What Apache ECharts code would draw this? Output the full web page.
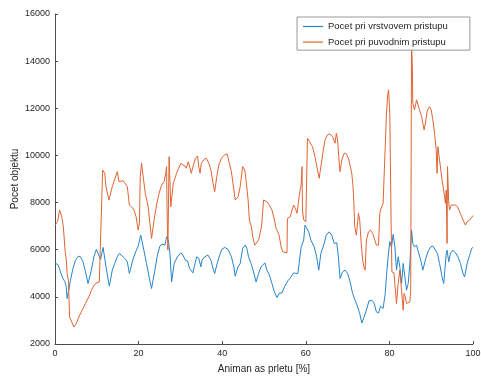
<!DOCTYPE html>
<html>
<head>
<meta charset="utf-8">
<script src="https://cdn.jsdelivr.net/npm/echarts@6/dist/echarts.min.js"></script>
<style>
html,body{margin:0;padding:0;background:#fff;}
#chart{width:481px;height:376px;}
</style>
</head>
<body>
<div id="chart"></div>
<script>
const seriesNames = ['Pocet pri vrstvovem pristupu', 'Pocet pri puvodnim pristupu'];
const xTicks = [0, 20, 40, 60, 80, 100];
const yTicks = [2000, 4000, 6000, 8000, 10000, 12000, 14000, 16000];

const blueX = [0,0.8,1.3,1.9,2.4,2.7,2.9,3.3,3.7,4.3,4.9,5.6,6.1,6.7,7.3,7.9,8.7,9.3,9.9,10.3,10.9,11.5,12.2,13.0,13.7,14.3,14.9,15.4,16.1,16.7,17.3,17.8,18.2,18.6,19.3,19.9,20.2,20.5,21.1,21.9,22.5,23.1,23.9,24.5,25.1,25.6,26.3,26.7,27.1,27.5,27.9,28.5,29.3,30.1,30.6,31.2,31.7,32.2,33.0,33.4,33.9,34.4,34.9,35.2,35.8,36.6,37.3,37.8,38.2,38.8,39.4,39.9,40.6,41.4,42.2,42.8,43.1,43.8,44.3,44.9,45.5,45.9,46.3,46.9,47.5,48.1,48.7,49.3,50.2,50.7,51.3,51.9,52.5,53.1,53.6,54.3,54.9,55.7,56.5,57.1,57.6,58.1,58.4,58.9,59.5,59.8,60.1,60.7,61.2,62.0,62.6,63.1,63.6,64.4,64.9,65.6,66.2,66.8,67.4,67.8,68.2,68.8,69.4,70.0,70.5,71.2,71.8,72.4,72.9,73.4,73.9,74.5,75.1,75.8,76.3,76.9,77.4,77.9,78.5,79.0,79.3,79.7,80.1,80.5,80.9,81.3,81.7,82.1,82.5,82.9,83.3,83.7,84.1,84.5,84.9,85.3,85.6,86.0,86.5,86.8,87.5,88.0,88.6,89.2,89.9,90.4,90.8,91.5,92.0,92.6,93.0,93.6,93.8,94.2,94.6,95.2,95.8,96.4,97.0,97.6,98.0,98.6,99.2,99.7,100];
const blueY = [5443,5345,5060,4780,4635,4425,3930,4283,4708,5205,5558,5728,5700,5485,5060,4568,5133,5700,6013,5953,5588,6098,5273,4453,5133,5418,5700,5843,5728,5630,5485,4993,4920,5558,5910,6153,6123,6620,6123,5418,4848,4355,5133,5770,6153,6238,6195,6550,6408,5843,4635,5418,5700,5870,5770,5558,5528,5205,5018,5345,5700,5630,5273,5558,5700,5770,5558,5205,4993,5418,5770,6013,6098,6013,5700,5273,4878,5273,5418,6055,6195,6055,5700,5418,5060,4635,4993,5273,5443,5133,4920,4568,4210,3973,4143,4168,4425,4678,4848,5018,4993,4993,5418,6123,6408,7045,7118,6760,6408,6123,5700,5133,5843,6268,6620,6760,6620,6268,6293,5700,4780,5060,5133,4993,4708,4143,3858,3573,3293,2893,3123,3433,3828,3858,3743,3360,3318,3603,3505,4143,4900,5700,6350,6100,6650,6150,5133,5700,5273,4568,5418,4848,4283,4568,5418,6833,6268,6123,6195,5983,5558,5133,5558,5910,6123,6153,6195,5843,5418,4848,4568,5843,5983,5485,5843,5983,5870,5700,5418,4993,4848,5418,5770,6055,6100];

const orangeX = [0,0.6,0.8,1.1,1.6,2.0,2.4,2.7,2.9,3.2,3.5,4.0,4.5,5.1,5.7,6.5,7.3,8.1,8.9,9.7,10.6,11.0,11.4,11.9,12.2,12.9,13.3,13.7,14.1,14.5,14.9,15.3,15.7,16.3,16.7,17.3,17.8,18.3,18.9,19.4,19.9,20.2,20.4,20.7,21.1,21.6,22.3,22.7,23.1,23.7,24.3,24.9,25.5,26.1,26.5,26.7,26.8,27.0,27.3,27.7,28.3,29.1,29.6,30.1,30.6,31.1,31.4,31.9,32.2,32.6,33.0,33.6,34.1,34.4,34.7,35.0,35.7,36.2,36.8,37.3,37.8,38.2,38.7,39.2,39.8,40.6,41.2,41.7,42.2,42.8,43.1,43.8,44.3,44.9,45.4,45.7,46.2,46.5,47.0,47.3,47.8,48.2,48.7,49.4,49.9,50.2,50.7,51.3,51.9,52.5,52.9,53.3,53.6,54.1,54.5,55.5,55.6,56.3,56.7,57.1,57.5,57.9,58.3,58.7,58.9,59.1,59.2,59.5,60.0,60.3,60.4,60.9,61.6,62.2,62.8,63.2,63.6,64.2,64.6,65.2,65.7,66.4,67.0,67.3,67.6,68.0,68.2,68.6,69.2,69.7,70.2,70.5,71.0,71.3,71.5,71.7,72.1,72.6,72.9,73.2,73.6,73.9,74.2,74.5,75.0,75.5,76.0,76.5,76.9,77.4,77.7,78.0,78.5,78.7,79.0,79.3,79.6,79.8,80.1,80.4,80.6,81.1,81.3,81.7,82.1,82.5,82.9,83.3,83.5,83.8,84.1,84.5,84.9,85.1,85.3,85.5,85.6,86.0,86.5,86.8,87.2,87.7,88.0,88.3,88.6,89.1,89.6,90.0,90.4,90.8,91.2,91.4,91.6,91.9,92.3,92.6,93.1,93.4,93.6,93.8,93.9,94.2,94.4,94.8,95.2,95.8,96.3,96.8,97.3,97.8,98.2,98.6,99.2,99.7,100];
const orangeY = [7045,7188,7145,7683,7398,6973,5983,5558,4993,4708,3148,2935,2723,2868,3148,3433,3718,4000,4355,4568,4635,4635,9383,9243,8673,8108,8035,8673,8885,8958,9310,8885,8818,8928,8958,8673,7895,7823,7683,7398,6833,7118,9098,9668,9098,8393,7823,7118,6480,7258,7895,8393,8745,8885,9243,9523,7823,5983,9948,7823,8818,9243,9455,9668,9595,9553,9455,9735,9668,9243,9523,9880,9978,9523,9243,9668,9838,9880,9668,9383,8818,8460,9098,9595,9880,10020,10063,9668,9310,8533,8108,8248,8673,9523,9383,8958,8108,7258,6973,6548,6195,6123,6408,6973,8108,8180,8035,7895,7683,7258,6905,6760,6620,6123,5910,5870,7330,7398,7683,7895,7755,7543,8108,8605,8745,9523,7683,7258,7188,7188,10730,10585,10373,9948,9383,9030,9523,10233,10658,10870,10913,10798,10518,10943,10658,9668,9310,9808,10093,10063,9880,9808,9243,8673,7968,6973,6620,7543,7258,6408,5558,5273,5133,6408,6760,6833,6693,6408,6195,6195,7543,7755,7968,8958,10373,11793,12570,12783,11793,7258,5060,5018,4568,3718,4568,5133,4283,3433,4143,4000,3718,3645,3785,4283,14900,13633,12218,11933,12358,12285,11933,11648,11368,11083,11368,11933,12073,11933,11508,10943,10233,9243,10373,9948,9383,8958,8393,7968,8533,6268,9523,7968,7683,7895,7968,7895,7823,7610,7398,7188,7045,7188,7258,7373,7450];

const pairs = (xs, ys) => xs.map((x, i) => [x, ys[i]]);
const axisColor = '#4d4d4d';
const labelColor = '#262626';
const fontFamily = 'Liberation Sans, Arial, sans-serif';

const chart = echarts.init(document.getElementById('chart'), null, {renderer: 'canvas'});
chart.setOption({
  animation: false,
  backgroundColor: '#ffffff',
  grid: {left: 55, right: 8, top: 14, bottom: 32, containLabel: false, outerBoundsMode: 'none'},
  legend: {
    orient: 'vertical',
    left: 297, top: 17,
    padding: [3.5, 22, 2, 6],
    itemWidth: 20, itemHeight: 1.2, itemGap: 3.6,
    icon: 'rect',
    backgroundColor: '#ffffff',
    borderColor: '#999999', borderWidth: 1, borderRadius: 0,
    textStyle: {fontSize: 9.5, color: labelColor, fontFamily: fontFamily, lineHeight: 12},
    data: seriesNames,
    z: 10
  },
  xAxis: {
    type: 'value', min: xTicks[0], max: xTicks[xTicks.length - 1], interval: 20,
    name: 'Animan as prletu [%]', nameLocation: 'middle', nameGap: 20, nameMoveOverlap: false,
    nameTextStyle: {fontSize: 10, color: labelColor, fontFamily: fontFamily},
    axisLine: {show: true, lineStyle: {color: axisColor, width: 1}},
    axisTick: {show: true, inside: true, length: 3, lineStyle: {color: axisColor}},
    axisLabel: {fontSize: 9, color: labelColor, fontFamily: fontFamily, margin: 5,
                formatter: v => String(v)},
    splitLine: {show: false}
  },
  yAxis: {
    type: 'value', min: yTicks[0], max: yTicks[yTicks.length - 1], interval: 2000,
    name: 'Pocet objektu', nameLocation: 'middle', nameGap: 35, nameMoveOverlap: false,
    nameTextStyle: {fontSize: 10, color: labelColor, fontFamily: fontFamily},
    axisLine: {show: true, lineStyle: {color: axisColor, width: 1}},
    axisTick: {show: true, inside: true, length: 3, lineStyle: {color: axisColor}},
    axisLabel: {fontSize: 9, color: labelColor, fontFamily: fontFamily, margin: 5,
                formatter: v => String(v)},
    splitLine: {show: false}
  },
  series: [
    {name: seriesNames[0], type: 'line', data: pairs(blueX, blueY), symbol: 'none',
     smooth: false, lineStyle: {color: '#2585cc', width: 1}, itemStyle: {color: '#2585cc'}},
    {name: seriesNames[1], type: 'line', data: pairs(orangeX, orangeY), symbol: 'none',
     smooth: false, lineStyle: {color: '#df6433', width: 1}, itemStyle: {color: '#df6433'}}
  ]
});
</script>
</body>
</html>
